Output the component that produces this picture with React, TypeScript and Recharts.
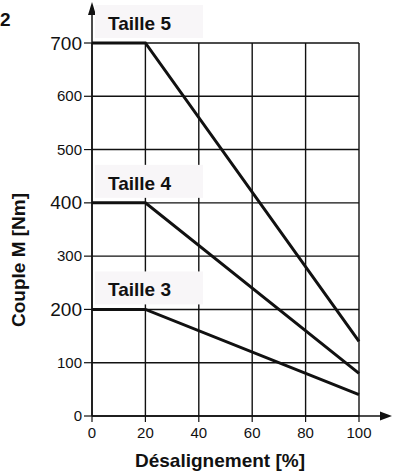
import { CartesianGrid, Label, Line, LineChart, ReferenceDot, XAxis, YAxis } from "recharts";

// misalignment [%] and allowed torque per size [Nm]
const misalignment = [0, 20, 100];
const taille5 = [700, 700, 140];
const taille4 = [400, 400, 80];
const taille3 = [200, 200, 40];

const xTicks = [0, 20, 40, 60, 80, 100];
const yTicks = [0, 100, 200, 300, 400, 500, 600, 700];
const bigYTicks = [200, 400, 700];
const sizeNames = ["Taille 5", "Taille 4", "Taille 3"];
const sizeLevels = [700, 400, 200];

const data = misalignment.map((x, i) => ({ x, t5: taille5[i], t4: taille4[i], t3: taille3[i] }));

const FONT = "'Liberation Sans', Arial, Helvetica, sans-serif";
const INK = "#111";

function YTick(props: any) {
  const { x, y, payload } = props;
  const big = bigYTicks.includes(payload.value);
  return (
    <text x={x} y={y} dy={big ? 6.5 : 5} textAnchor="end" fontSize={big ? 19 : 15} fill={INK} fontFamily={FONT}>
      {payload.value}
    </text>
  );
}

function XTick(props: any) {
  const { x, y, payload } = props;
  return (
    <text x={x} y={y} dy={14} textAnchor="middle" fontSize={15} fill={INK} fontFamily={FONT}>
      {payload.value}
    </text>
  );
}

function SizeTag(name: string) {
  return (p: any) => (
    <g>
      <rect x={p.cx + 3} y={p.cy - 38} width={108} height={33} fill="#f8f6f8" />
      <text x={p.cx + 16} y={p.cy - 13} fontSize={19} fontWeight="bold" fill={INK} fontFamily={FONT}>
        {name}
      </text>
    </g>
  );
}

// arrow continuing the y axis above its top tick
function UpArrow(p: any) {
  const x = p.cx;
  const tip = p.cy - 41;
  return (
    <g>
      <line x1={x} y1={p.cy} x2={x} y2={tip + 10} stroke={INK} strokeWidth={1.5} />
      <polygon points={`${x},${tip} ${x - 4},${tip + 13} ${x + 4},${tip + 13}`} fill={INK} />
    </g>
  );
}

// arrow continuing the x axis past its last tick
function RightArrow(p: any) {
  const y = p.cy;
  const tip = p.cx + 33;
  return (
    <g>
      <line x1={p.cx} y1={y} x2={tip - 10} y2={y} stroke={INK} strokeWidth={1.5} />
      <polygon points={`${tip},${y} ${tip - 12},${y - 4.5} ${tip - 12},${y + 4.5}`} fill={INK} />
    </g>
  );
}

export default function App() {
  return (
    <div style={{ position: "absolute", left: 0, top: 0, width: 393, height: 472, background: "#fff", fontFamily: FONT }}>
      <span style={{ position: "absolute", left: 0, top: 9, fontSize: 19, fontWeight: "bold", color: INK }}>2</span>
      <LineChart width={393} height={472} data={data} margin={{ top: 43, right: 34, bottom: 0, left: 0 }}>
        <CartesianGrid stroke={INK} strokeWidth={1.4} horizontalValues={yTicks} verticalValues={xTicks} />
        <XAxis
          dataKey="x"
          type="number"
          domain={[0, 100]}
          ticks={xTicks}
          height={56}
          tickSize={6}
          axisLine={{ stroke: INK, strokeWidth: 1.5 }}
          tickLine={{ stroke: INK, strokeWidth: 1.2 }}
          tick={<XTick />}
        >
          <Label
            content={() => (
              <text x={220} y={467} textAnchor="middle" fontSize={19} fontWeight="bold" fill={INK} fontFamily={FONT}>
                Désalignement [%]
              </text>
            )}
          />
        </XAxis>
        <YAxis
          type="number"
          domain={[0, 700]}
          ticks={yTicks}
          width={92}
          tickSize={8}
          axisLine={{ stroke: INK, strokeWidth: 1.5 }}
          tickLine={{ stroke: INK, strokeWidth: 1.2 }}
          tick={<YTick />}
        >
          <Label
            content={() => (
              <text
                x={25}
                y={260}
                transform="rotate(-90 25 260)"
                textAnchor="middle"
                fontSize={19}
                fontWeight="bold"
                fill={INK}
                fontFamily={FONT}
              >
                Couple M [Nm]
              </text>
            )}
          />
        </YAxis>
        <Line type="linear" dataKey="t5" stroke={INK} strokeWidth={3} dot={false} isAnimationActive={false} />
        <Line type="linear" dataKey="t4" stroke={INK} strokeWidth={3} dot={false} isAnimationActive={false} />
        <Line type="linear" dataKey="t3" stroke={INK} strokeWidth={3} dot={false} isAnimationActive={false} />
        <ReferenceDot x={0} y={700} ifOverflow="visible" shape={UpArrow} />
        <ReferenceDot x={100} y={0} ifOverflow="visible" shape={RightArrow} />
        {sizeNames.map((name, i) => (
          <ReferenceDot key={name} x={0} y={sizeLevels[i]} ifOverflow="visible" shape={SizeTag(name)} />
        ))}
      </LineChart>
    </div>
  );
}
